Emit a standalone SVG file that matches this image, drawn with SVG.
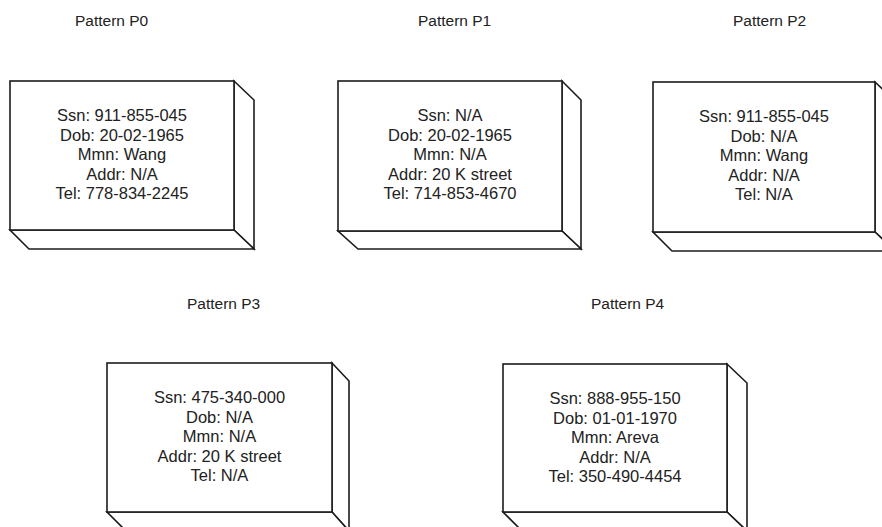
<svg xmlns="http://www.w3.org/2000/svg" width="882" height="527" viewBox="0 0 882 527">
<style>
.face{fill:#fff;stroke:#1c1c1c;stroke-width:1.6;stroke-linejoin:miter}
.t{font-family:"Liberation Sans",Arial,sans-serif;font-size:16.5px;fill:#222;text-anchor:middle}
.title{font-family:"Liberation Sans",Arial,sans-serif;font-size:15.5px;fill:#222}
</style>
<rect width="882" height="527" fill="#fff"/>
<g id="connectors"/>
<g id="P0">
<text class="title" x="75" y="26">Pattern P0</text>
<polygon class="face" points="234,81 254,100 254,249 234,230"/>
<polygon class="face" points="10,230 234,230 254,249 29,249"/>
<rect class="face" x="10" y="81" width="224" height="149"/>
<text class="t" x="122" y="121">Ssn: 911-855-045</text>
<text class="t" x="122" y="140.5">Dob: 20-02-1965</text>
<text class="t" x="122" y="160">Mmn: Wang</text>
<text class="t" x="122" y="179.5">Addr: N/A</text>
<text class="t" x="122" y="199">Tel: 778-834-2245</text>
</g>
<g id="P1">
<text class="title" x="418" y="26">Pattern P1</text>
<polygon class="face" points="562,81 581,100 581,249 562,231"/>
<polygon class="face" points="338,231 562,231 581,249 358,249"/>
<rect class="face" x="338" y="81" width="224" height="150"/>
<text class="t" x="450" y="121">Ssn: N/A</text>
<text class="t" x="450" y="140.5">Dob: 20-02-1965</text>
<text class="t" x="450" y="160">Mmn: N/A</text>
<text class="t" x="450" y="179.5">Addr: 20 K street</text>
<text class="t" x="450" y="199">Tel: 714-853-4670</text>
</g>
<g id="P2">
<text class="title" x="733" y="26">Pattern P2</text>
<polygon class="face" points="875,82 895,101 895,251 875,232"/>
<polygon class="face" points="653,232 875,232 895,251 672,251"/>
<rect class="face" x="653" y="82" width="222" height="150"/>
<text class="t" x="764" y="122">Ssn: 911-855-045</text>
<text class="t" x="764" y="141.5">Dob: N/A</text>
<text class="t" x="764" y="161">Mmn: Wang</text>
<text class="t" x="764" y="180.5">Addr: N/A</text>
<text class="t" x="764" y="200">Tel: N/A</text>
</g>
<g id="P3">
<text class="title" x="187" y="309">Pattern P3</text>
<polygon class="face" points="332,363 349,381 349,531 332,512"/>
<polygon class="face" points="107,512 332,512 349,531 126,531"/>
<rect class="face" x="107" y="363" width="225" height="149"/>
<text class="t" x="219.5" y="403">Ssn: 475-340-000</text>
<text class="t" x="219.5" y="422.5">Dob: N/A</text>
<text class="t" x="219.5" y="442">Mmn: N/A</text>
<text class="t" x="219.5" y="461.5">Addr: 20 K street</text>
<text class="t" x="219.5" y="481">Tel: N/A</text>
</g>
<g id="P4">
<text class="title" x="591" y="309">Pattern P4</text>
<polygon class="face" points="727,364 747,383 747,531 727,512"/>
<polygon class="face" points="503,512 727,512 747,531 522,531"/>
<rect class="face" x="503" y="364" width="224" height="148"/>
<text class="t" x="615" y="404">Ssn: 888-955-150</text>
<text class="t" x="615" y="423.5">Dob: 01-01-1970</text>
<text class="t" x="615" y="443">Mmn: Areva</text>
<text class="t" x="615" y="462.5">Addr: N/A</text>
<text class="t" x="615" y="482">Tel: 350-490-4454</text>
</g>
</svg>
